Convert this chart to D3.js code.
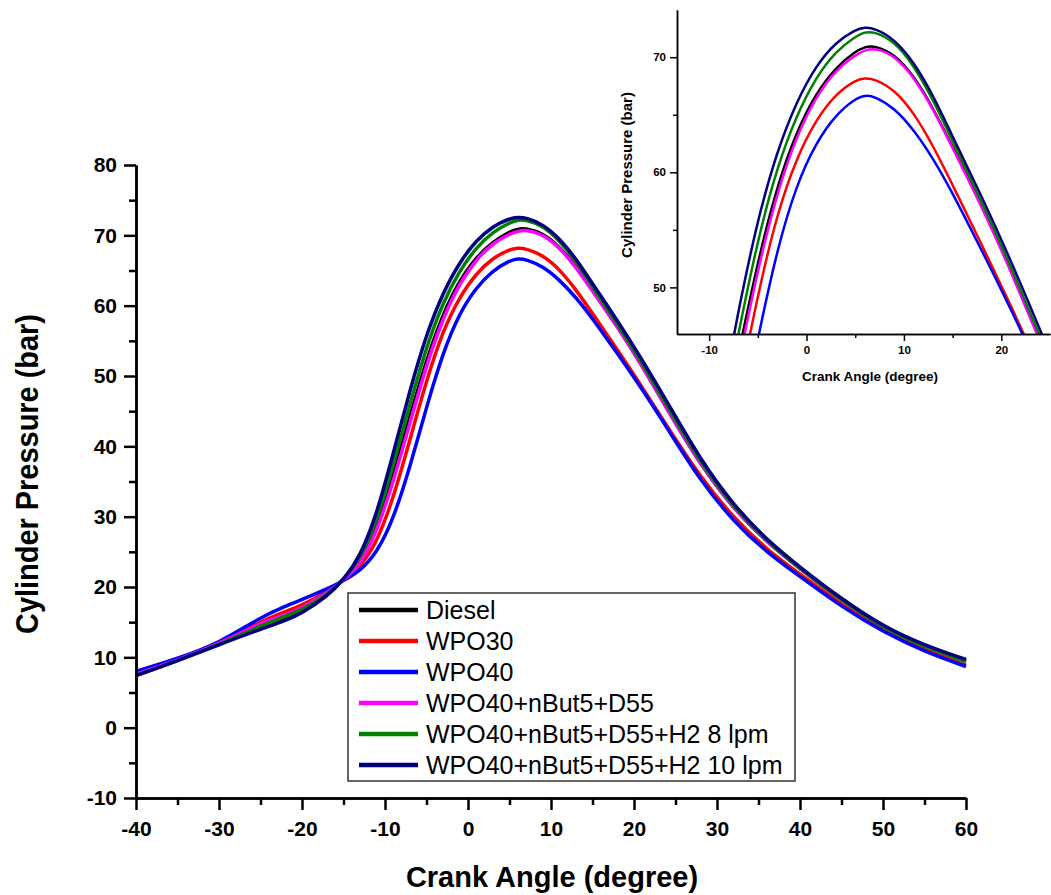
<!DOCTYPE html>
<html>
<head>
<meta charset="utf-8">
<script src="https://cdn.jsdelivr.net/npm/d3@7"></script>
<style>
  body { margin: 0; background: #fff; }
  svg { display: block; }
  text { font-family: "Liberation Sans", Arial, sans-serif; fill: #000; }
</style>
</head>
<body>
<svg width="1051" height="895"></svg>
<script>
// crank angle (degree) sample positions
const crankAngle = [-40, -35, -30, -25, -22, -20, -17, -15, -13, -11, -9, -7, -5, -3, -1, 1, 3, 5, 6, 7, 9, 11, 13, 15, 18, 21, 24, 28, 32, 36, 40, 45, 50, 55, 60];

// cylinder pressure (bar)
const diesel = [7.5, 9.6, 11.9, 14.2, 15.4, 16.5, 18.8, 21.1, 23.6, 28.6, 36.0, 44.2, 52.3, 58.9, 63.6, 66.9, 69.1, 70.5, 70.9, 71.0, 70.3, 68.4, 65.6, 62.2, 57.1, 51.5, 45.3, 37.4, 31.1, 26.4, 22.6, 18.1, 14.3, 11.6, 9.6];
const wpo30 = [7.6, 9.6, 12.0, 15.1, 16.5, 17.4, 19.3, 21.0, 22.8, 26.3, 32.6, 40.9, 49.4, 56.5, 61.3, 64.6, 66.8, 68.0, 68.2, 68.1, 67.2, 65.2, 62.3, 58.9, 53.7, 48.4, 42.8, 35.6, 29.8, 25.3, 21.8, 17.5, 13.8, 11.0, 8.9];
const wpo40 = [8.0, 9.8, 12.0, 15.7, 17.3, 18.2, 19.7, 20.9, 22.3, 24.8, 29.6, 37.0, 45.6, 53.4, 59.0, 62.6, 65.0, 66.4, 66.7, 66.6, 65.6, 63.7, 61.2, 58.2, 53.2, 48.1, 42.6, 35.1, 29.3, 24.9, 21.5, 17.2, 13.6, 10.8, 8.7];
const wpo40But = [7.6, 9.6, 11.9, 14.9, 16.0, 17.0, 19.1, 21.0, 23.1, 27.8, 35.0, 43.3, 51.6, 58.3, 63.2, 66.6, 68.9, 70.2, 70.6, 70.8, 70.2, 68.3, 65.5, 62.1, 57.0, 51.4, 45.2, 37.4, 31.1, 26.4, 22.6, 18.1, 14.3, 11.6, 9.5];
const wpo40H2_8 = [7.4, 9.5, 11.8, 14.5, 15.8, 16.8, 18.8, 21.1, 23.9, 29.3, 37.3, 46.0, 54.2, 60.5, 65.0, 68.3, 70.5, 71.8, 72.2, 72.2, 71.4, 69.3, 66.3, 62.7, 57.4, 51.8, 45.7, 37.7, 31.3, 26.5, 22.6, 18.1, 14.2, 11.5, 9.4];
const wpo40H2_10 = [7.4, 9.5, 11.8, 14.0, 15.2, 16.3, 18.6, 21.0, 24.3, 30.3, 39.0, 48.0, 56.0, 61.9, 66.2, 69.3, 71.3, 72.4, 72.6, 72.5, 71.6, 69.6, 66.7, 63.1, 57.9, 52.3, 46.3, 38.1, 31.6, 26.7, 22.8, 18.3, 14.4, 11.7, 9.7];

const seriesNames = ["Diesel", "WPO30", "WPO40", "WPO40+nBut5+D55", "WPO40+nBut5+D55+H2 8 lpm", "WPO40+nBut5+D55+H2 10 lpm"];
const seriesColors = ["#000000", "#ff0000", "#0000ff", "#ff00ff", "#008000", "#000080"];
const seriesValues = [diesel, wpo30, wpo40, wpo40But, wpo40H2_8, wpo40H2_10];

const xTicks = [-40, -30, -20, -10, 0, 10, 20, 30, 40, 50, 60];
const yTicks = [-10, 0, 10, 20, 30, 40, 50, 60, 70, 80];
const insetXTicks = [-10, 0, 10, 20];
const insetYTicks = [50, 60, 70];

const series = seriesNames.map((name, i) => ({
  name,
  color: seriesColors[i],
  points: crankAngle.map((a, j) => [a, seriesValues[i][j]])
}));

const svg = d3.select("svg");
const fmt = d => String(d);

// ---- main chart ----
const x = d3.scaleLinear().domain([-40, 60]).range([136, 966]);
const y = d3.scaleLinear().domain([-10, 80]).range([798, 165]);

const line = d3.line()
  .x(d => x(d[0]))
  .y(d => y(d[1]))
  .curve(d3.curveBasis);

svg.append("g")
  .attr("class", "curves")
  .selectAll("path")
  .data(series)
  .enter()
  .append("path")
  .attr("d", d => line(d.points))
  .attr("fill", "none")
  .attr("stroke", d => d.color)
  .attr("stroke-width", 3.5)
  .attr("stroke-linejoin", "round");

function styleAxis(g, lineWidth, fontSize) {
  g.select(".domain").attr("stroke", "#000").attr("stroke-width", lineWidth);
  g.selectAll(".tick line").attr("stroke", "#000").attr("stroke-width", lineWidth);
  g.selectAll(".tick text")
    .attr("fill", "#000")
    .style("font-size", fontSize + "px")
    .style("font-weight", "bold");
}

const xMinor = d3.range(-35, 60, 10);
const yMinor = d3.range(-5, 80, 10);

svg.append("g")
  .attr("transform", "translate(0,798)")
  .call(d3.axisBottom(x).tickValues(xMinor).tickSize(7).tickSizeOuter(0).tickFormat(""))
  .call(g => styleAxis(g, 2.5, 21));
svg.append("g")
  .attr("transform", "translate(0,798)")
  .call(d3.axisBottom(x).tickValues(xTicks).tickSize(12).tickSizeOuter(0).tickPadding(11).tickFormat(fmt))
  .call(g => styleAxis(g, 2.5, 21));

svg.append("g")
  .attr("transform", "translate(136,0)")
  .call(d3.axisLeft(y).tickValues(yMinor).tickSize(7).tickSizeOuter(0).tickFormat(""))
  .call(g => styleAxis(g, 2.5, 21));
svg.append("g")
  .attr("transform", "translate(136,0)")
  .call(d3.axisLeft(y).tickValues(yTicks).tickSize(12).tickSizeOuter(0).tickPadding(7).tickFormat(fmt))
  .call(g => styleAxis(g, 2.5, 21));

svg.append("text")
  .attr("x", 552)
  .attr("y", 887)
  .attr("text-anchor", "middle")
  .style("font-size", "29px")
  .style("font-weight", "bold")
  .text("Crank Angle (degree)");

svg.append("text")
  .attr("transform", "translate(38,474) rotate(-90)")
  .attr("text-anchor", "middle")
  .attr("textLength", 320)
  .attr("lengthAdjust", "spacingAndGlyphs")
  .style("font-size", "31px")
  .style("font-weight", "bold")
  .text("Cylinder Pressure (bar)");

// ---- legend ----
const legend = svg.append("g").attr("transform", "translate(348,593)");
legend.append("rect")
  .attr("width", 447)
  .attr("height", 188)
  .attr("fill", "#fff")
  .attr("stroke", "#333")
  .attr("stroke-width", 1.5);

const item = legend.selectAll("g.item")
  .data(series)
  .enter()
  .append("g")
  .attr("class", "item")
  .attr("transform", (d, i) => `translate(0,${17 + i * 31})`);
item.append("line")
  .attr("x1", 11).attr("x2", 70)
  .attr("stroke", d => d.color)
  .attr("stroke-width", 4.5);
item.append("text")
  .attr("x", 78)
  .attr("dy", "0.36em")
  .style("font-size", "25px")
  .text(d => d.name);

// ---- inset ----
const ix = d3.scaleLinear().domain([-13.3, 25]).range([677, 1050]);
const iy = d3.scaleLinear().domain([45.95, 74.1]).range([334, 10]);

svg.append("clipPath")
  .attr("id", "insetClip")
  .append("rect")
  .attr("x", 677).attr("y", 10)
  .attr("width", 373).attr("height", 324);

const insetLine = d3.line()
  .x(d => ix(d[0]))
  .y(d => iy(d[1]))
  .curve(d3.curveBasis);

svg.append("g")
  .attr("clip-path", "url(#insetClip)")
  .selectAll("path")
  .data(series)
  .enter()
  .append("path")
  .attr("d", d => insetLine(d.points))
  .attr("fill", "none")
  .attr("stroke", d => d.color)
  .attr("stroke-width", 2.5);

svg.append("g")
  .attr("transform", "translate(0,334)")
  .call(d3.axisBottom(ix).tickValues([-5, 5, 15]).tickSize(4).tickSizeOuter(0).tickFormat(""))
  .call(g => styleAxis(g, 1.5, 11.5));
svg.append("g")
  .attr("transform", "translate(0,334)")
  .call(d3.axisBottom(ix).tickValues(insetXTicks).tickSize(7).tickSizeOuter(0).tickPadding(5).tickFormat(fmt))
  .call(g => styleAxis(g, 1.5, 11.5));

svg.append("g")
  .attr("transform", "translate(677,0)")
  .call(d3.axisLeft(iy).tickValues([55, 65]).tickSize(4).tickSizeOuter(0).tickFormat(""))
  .call(g => styleAxis(g, 1.5, 11.5));
svg.append("g")
  .attr("transform", "translate(677,0)")
  .call(d3.axisLeft(iy).tickValues(insetYTicks).tickSize(7).tickSizeOuter(0).tickPadding(4).tickFormat(fmt))
  .call(g => styleAxis(g, 1.5, 11.5));

svg.append("text")
  .attr("x", 870)
  .attr("y", 381)
  .attr("text-anchor", "middle")
  .style("font-size", "13.5px")
  .style("font-weight", "bold")
  .text("Crank Angle (degree)");

svg.append("text")
  .attr("transform", "translate(632,175) rotate(-90)")
  .attr("text-anchor", "middle")
  .style("font-size", "15px")
  .style("font-weight", "bold")
  .text("Cylinder Pressure (bar)");
</script>
</body>
</html>
